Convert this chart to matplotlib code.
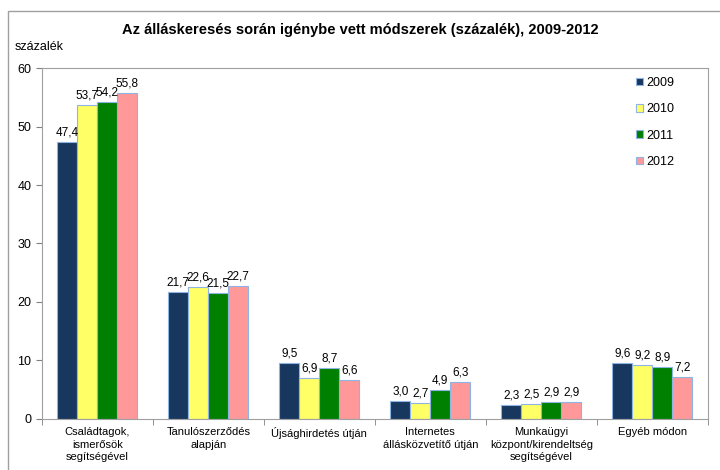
import numpy as np
import matplotlib
matplotlib.use("Agg")
from matplotlib import pyplot as plt
from matplotlib.patches import Rectangle

plt.rcParams['font.family'] = ['Liberation Sans', 'DejaVu Sans']

categories = ["Családtagok,\nismerősök\nsegítségével",
              "Tanulószerződés\nalapján",
              "Újsághirdetés útján",
              "Internetes\nállásközvetítő útján",
              "Munkaügyi\nközpont/kirendeltség\nsegítségével",
              "Egyéb módon"]
years = ["2009", "2010", "2011", "2012"]
v2009 = [47.4, 21.7, 9.5, 3.0, 2.3, 9.6]
v2010 = [53.7, 22.6, 6.9, 2.7, 2.5, 9.2]
v2011 = [54.2, 21.5, 8.7, 4.9, 2.9, 8.9]
v2012 = [55.8, 22.7, 6.6, 6.3, 2.9, 7.2]
series = [v2009, v2010, v2011, v2012]
colors = ["#17375E", "#FFFF66", "#008000", "#FF9999"]

fig = plt.figure(figsize=(7.2, 4.7), dpi=100)
ax = fig.add_axes([0.058, 0.109, 0.925, 0.746])

# outer chart frame
fig.patches.append(Rectangle((8 / 720, -0.1), 1.0, 1 - 11 / 470 + 0.1,
                             transform=fig.transFigure, fill=False,
                             edgecolor="#A0A0A0", linewidth=1))

x = np.arange(len(categories))
w = 0.18
for i, (vals, c) in enumerate(zip(series, colors)):
    pos = x + (i - 1.5) * w
    ax.bar(pos, vals, width=w, color=c, edgecolor="#8EB4E3", linewidth=0.8,
           label=years[i])
    for p, v in zip(pos, vals):
        ax.text(p, v + 0.6, f"{v:.1f}".replace(".", ","), ha="center",
                va="bottom", fontsize=8.5)

ax.set_xlim(-0.5, len(categories) - 0.5)
ax.set_ylim(0, 60)
ax.set_yticks(range(0, 61, 10))
ax.tick_params(axis="y", labelsize=9, length=4, color="#808080")
ax.set_xticks(x)
ax.set_xticklabels(categories, fontsize=8, linespacing=1.3)
ax.tick_params(axis="x", length=0, pad=6)
ax.set_xticks(np.arange(-0.5, len(categories), 1), minor=True)
ax.tick_params(axis="x", which="minor", length=4, color="#808080")
for s in ax.spines.values():
    s.set_color("#A0A0A0")

ax.legend(loc="upper left", bbox_to_anchor=(0.893, 0.975), frameon=False,
          fontsize=9, handlelength=0.55, handleheight=0.55, handletextpad=0.25,
          labelspacing=1.15, borderpad=0, borderaxespad=0)

fig.text(0.5, 1 - 30 / 470, "Az álláskeresés során igénybe vett módszerek (százalék), 2009-2012",
         ha="center", va="center", fontsize=10.5, fontweight="bold")
fig.text(15 / 720, 1 - 47 / 470, "százalék", ha="left", va="center", fontsize=9)

fig.savefig("out.png", dpi=100)
